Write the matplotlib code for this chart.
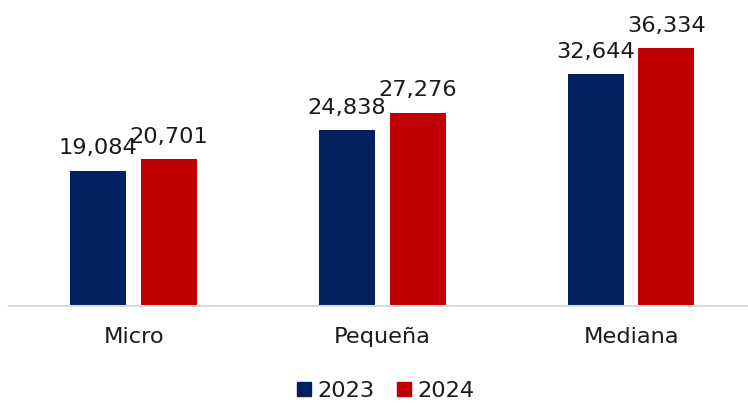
import matplotlib
matplotlib.use("Agg")
import matplotlib.pyplot as plt
import numpy as np
from matplotlib.patches import Patch

categories = ["Micro", "Pequeña", "Mediana"]
series_names = ["2023", "2024"]
values_2023 = [19084, 24838, 32644]
values_2024 = [20701, 27276, 36334]
colors = ["#002060", "#C00000"]

plt.rcParams["font.family"] = ["DejaVu Sans"]
FS = 16.2
TXT = "#1a1a1a"

W, H = 748, 403
fig = plt.figure(figsize=(W / 100, H / 100), dpi=100)
ax = fig.add_axes([9.4 / W, (H - 306) / H, 746 / W, 306 / H])

x = np.arange(len(categories))
bw = 0.225
off = 0.142
for vals, c, o, name in [(values_2023, colors[0], -off, series_names[0]),
                         (values_2024, colors[1], off, series_names[1])]:
    bars = ax.bar(x + o, vals, width=bw, color=c, label=name, zorder=2)
    for b, v in zip(bars, vals):
        ax.text(b.get_x() + b.get_width() / 2, v + 2280, f"{v:,}",
                ha="center", va="baseline", fontsize=FS, color=TXT)

ax.set_xlim(-0.5, 2.5)
ax.set_ylim(0, 43140)
ax.set_yticks([])
ax.set_xticks(x)
ax.set_xticklabels(categories, fontsize=FS, color=TXT)
ax.tick_params(axis="x", length=0, pad=15)
for s in ["top", "right", "left"]:
    ax.spines[s].set_visible(False)
ax.spines["bottom"].set_color("#D9D9D9")
ax.spines["bottom"].set_linewidth(1.5)
ax.patch.set_alpha(0)

handles = [Patch(color=colors[0], label=series_names[0]),
           Patch(color=colors[1], label=series_names[1])]
fig.legend(handles=handles, loc="center", bbox_to_anchor=(386 / W, 1 - 391 / H),
           ncol=2, frameon=False, fontsize=FS, handlelength=0.6, handleheight=0.6,
           handletextpad=0.3, columnspacing=1.0, labelcolor=TXT, borderpad=0)

fig.savefig("out.png", dpi=100)
